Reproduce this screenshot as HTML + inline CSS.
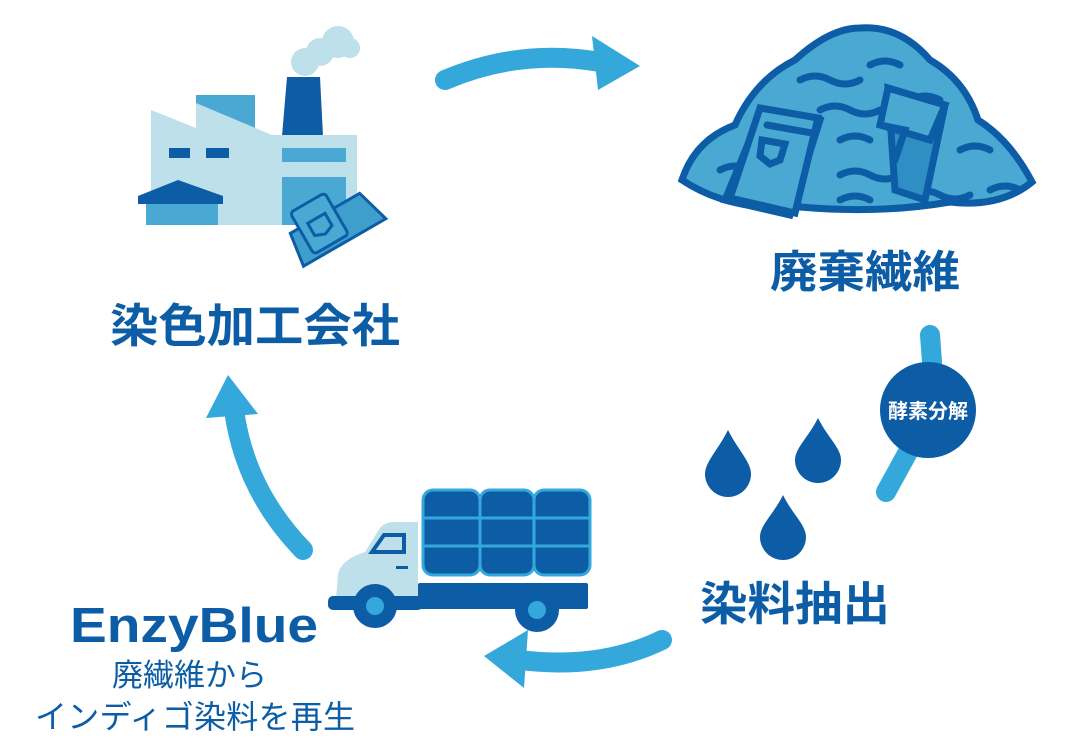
<!DOCTYPE html>
<html><head><meta charset="utf-8"><style>
html,body{margin:0;padding:0;background:#fff;}
svg{display:block;}
text{font-family:"Liberation Sans","Noto Sans CJK JP",sans-serif;fill:#0c5da6;}
</style></head><body>
<svg width="1080" height="750" viewBox="0 0 1080 750" xmlns="http://www.w3.org/2000/svg">
<!-- arrows -->
<g fill="none" stroke="#34a8da" stroke-width="20" stroke-linecap="round">
<path d="M445,80 Q520,48 600,62"/>
<path d="M930,335 L932,362"/>
<path d="M908,452 L886,492"/>
<path d="M662,640 Q600,670 520,660"/>
<path d="M303,550 Q245,490 234,410"/>
</g>
<g fill="#34a8da">
<polygon points="640,66 592,36 598,90"/>
<polygon points="484,656 528,630 524,688"/>
<polygon points="228,375 206,418 258,414"/>
</g>
<!-- factory -->
<g>
<circle cx="305" cy="62" r="14" fill="#bde0ea"/>
<circle cx="320" cy="52" r="14" fill="#bde0ea"/>
<circle cx="338" cy="42" r="16" fill="#bde0ea"/>
<circle cx="350" cy="48" r="10" fill="#bde0ea"/>
<polygon points="287,77 320,77 323,136 282,136" fill="#0c5da6"/>
<rect x="196" y="95" width="59" height="33" fill="#4aa9d3"/>
<polygon points="151,110 196,128 196,103 272,135 357,135 357,225 151,225" fill="#bde0ea"/>
<rect x="169" y="148" width="21" height="10" fill="#0c5da6"/>
<rect x="206" y="148" width="23" height="10" fill="#0c5da6"/>
<rect x="282" y="148" width="64" height="14" fill="#4aa9d3"/>
<rect x="282" y="177" width="64" height="48" fill="#4aa9d3"/>
<rect x="146" y="195" width="72" height="30" fill="#4aa9d3"/>
<polygon points="138,196 178,180 223,196 223,204 138,204" fill="#0c5da6"/>
<g transform="translate(330,222) rotate(-30)" stroke="#0c5da6" stroke-width="3" fill="#4aa9d3">
<path d="M-40,-10 L40,-10 L50,25 L-45,25 Z" fill="#3f9fcc"/>
<rect x="-30" y="-28" width="40" height="48" rx="4"/>
<path d="M-20,-10 L0,-10 L0,4 L-10,8 L-20,4 Z" fill="none"/>
</g>
</g>
<!-- pile -->
<g stroke="#0c5da6" stroke-width="7" stroke-linecap="round">
<path d="M682,180 Q695,140 735,125 Q755,80 795,60 Q830,28 860,28 Q900,25 930,60 Q965,80 978,120 Q1010,140 1032,182 Q1000,208 950,202 Q880,214 800,207 Q730,212 682,180 Z" fill="#4aa9d3"/>
<g fill="none">
<path d="M800,80 q15,-8 30,0 t30,0"/><path d="M870,65 q15,-8 30,0"/>
<path d="M820,110 q15,-8 30,0 t30,0"/><path d="M760,140 q15,-8 30,0"/>
<path d="M910,100 q15,-8 30,0"/><path d="M840,140 q15,-8 30,0"/>
<path d="M840,175 q15,-8 30,0 t30,0"/><path d="M960,150 q15,-8 30,0"/>
<path d="M720,170 q15,-8 30,0"/><path d="M910,195 q15,-8 30,0 t30,0"/>
<path d="M990,190 q15,-8 30,0"/><path d="M840,200 q15,-8 30,0"/>
</g>
<g fill="#4aa9d3">
<path d="M762,110 L820,120 L790,215 L725,200 Z" fill="#2f8fc4"/>
<path d="M760,108 L818,118 L795,213 L730,198 Z"/>
<path d="M767,125 L812,133"/>
<path d="M762,140 L785,144 L780,160 L770,164 L760,156 Z" fill="none"/>
<path d="M888,88 L945,105 L925,200 L895,190 Z" fill="#2f8fc4"/>
<path d="M888,88 L945,105 L930,140 L880,125 Z"/>
<path d="M880,125 L905,130 L895,160" fill="none"/>
</g>
</g>
<text x="770" y="287" font-size="44" font-weight="bold" textLength="190" lengthAdjust="spacingAndGlyphs">廃棄繊維</text>
<text x="110" y="342" font-size="46" font-weight="bold" textLength="290" lengthAdjust="spacingAndGlyphs">染色加工会社</text>
<!-- enzyme -->
<circle cx="928" cy="410" r="48" fill="#0c5da6"/>
<text x="928" y="418" font-size="20" font-weight="bold" text-anchor="middle" style="fill:#fff">酵素分解</text>
<!-- drops -->
<g fill="#0c5da6">
<path d="M728,430 C718,450 705,462 705,474 A23,23 0 0 0 751,474 C751,462 738,450 728,430 Z"/>
<path d="M818,418 C808,438 795,448 795,460 A23,23 0 0 0 841,460 C841,448 828,438 818,418 Z"/>
<path d="M783,495 C773,515 760,525 760,537 A23,23 0 0 0 806,537 C806,525 793,515 783,495 Z"/>
</g>
<text x="700" y="620" font-size="46" font-weight="bold" textLength="190" lengthAdjust="spacingAndGlyphs">染料抽出</text>
<!-- truck -->
<g>
<g fill="#0c5da6" stroke="#34a8da" stroke-width="3">
<rect x="423" y="490" width="57" height="85" rx="10"/>
<rect x="480" y="490" width="54" height="85" rx="10"/>
<rect x="534" y="490" width="56" height="85" rx="10"/>
</g>
<g stroke="#34a8da" stroke-width="3">
<line x1="423" y1="518" x2="590" y2="518"/><line x1="423" y1="546" x2="590" y2="546"/>
</g>
<path d="M338,575 Q340,560 365,552 L380,528 Q385,522 395,522 L418,522 L418,610 L335,610 Z" fill="#bde0ea"/>
<path d="M372,552 L384,535 L404,535 L404,552 Z" fill="none" stroke="#0c5da6" stroke-width="4"/>
<rect x="396" y="566" width="12" height="3" fill="#0c5da6"/>
<rect x="418" y="583" width="170" height="26" rx="2" fill="#0c5da6"/>
<rect x="328" y="596" width="95" height="14" rx="5" fill="#0c5da6"/>
<circle cx="375" cy="606" r="22" fill="#0c5da6"/><circle cx="375" cy="606" r="9" fill="#34a8da"/>
<circle cx="537" cy="610" r="22" fill="#0c5da6"/><circle cx="537" cy="610" r="9" fill="#34a8da"/>
</g>
<text x="70" y="642" font-size="49" font-weight="bold" textLength="248" lengthAdjust="spacingAndGlyphs">EnzyBlue</text>
<text x="112" y="686" font-size="31">廃繊維から</text>
<text x="35" y="728" font-size="32" textLength="320">インディゴ染料を再生</text>
</svg>
</body></html>
